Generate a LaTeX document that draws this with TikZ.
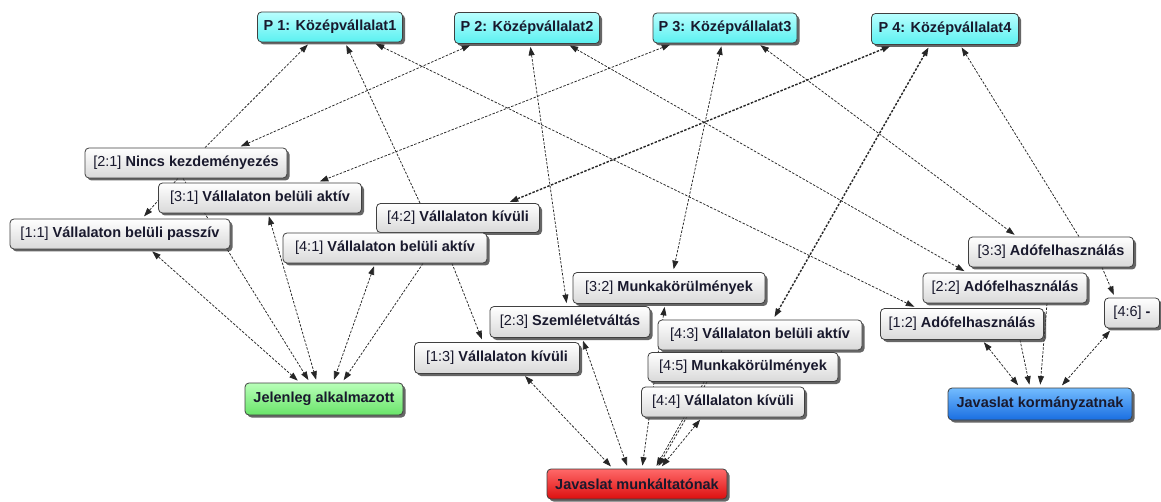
\documentclass[tikz,border=0pt]{standalone}
\usepackage{fontspec}
\setmainfont{Liberation Sans}
\usetikzlibrary{arrows.meta,shadows,backgrounds}
\newcommand\lb[2]{{\mdseries #1} #2}
\tikzset{
  box/.style={draw=black!75, line width=0.8pt, rounded corners=4pt, inner sep=2pt,
    font=\fontsize{14.5}{16}\selectfont\bfseries, text={rgb,255:red,25;green,25;blue,45},
    drop shadow={shadow xshift=2.5pt, shadow yshift=-2.5pt, fill=black!75, opacity=0.8}},
  grey/.style={box, top color=white, bottom color=black!15},
  cyanbox/.style={box, top color={rgb,255:red,185;green,255;blue,255}, bottom color={rgb,255:red,90;green,240;blue,240}},
  greenbox/.style={box, top color={rgb,255:red,185;green,255;blue,185}, bottom color={rgb,255:red,105;green,228;blue,105}},
  redbox/.style={box, top color={rgb,255:red,255;green,105;blue,105}, bottom color={rgb,255:red,220;green,15;blue,15}},
  bluebox/.style={box, top color={rgb,255:red,115;green,188;blue,255}, bottom color={rgb,255:red,25;green,110;blue,225}},
  con/.style={draw=black!85, line width=0.75pt, dash pattern=on 2.5pt off 1.5pt},
  thickcon/.style={con, line width=1.4pt},
  one/.style={con, -{Triangle[length=8.5pt,width=6pt]}, shorten >=3pt},
  two/.style={con, {Triangle[length=8.5pt,width=6pt]}-{Triangle[length=8.5pt,width=6pt]}, shorten >=3pt, shorten <=3pt},
}
\begin{document}
\begin{tikzpicture}[x=1pt,y=-1pt]
\useasboundingbox (0,0) rectangle (1161,502);
% top row
\node[cyanbox, minimum width=145pt, minimum height=30pt] (P1) at (330,27) {P 1: Középvállalat1};
\node[cyanbox, minimum width=145pt, minimum height=31pt] (P2) at (527,28) {P 2: Középvállalat2};
\node[cyanbox, minimum width=144pt, minimum height=30pt] (P3) at (725,28) {P 3: Középvállalat3};
\node[cyanbox, minimum width=147pt, minimum height=31pt] (P4) at (945,29) {P 4: Középvállalat4};
% left cluster
\node[grey, minimum width=202pt, minimum height=30pt] (n21) at (186,163) {\lb{[2:1]}{Nincs kezdeményezés}};
\node[grey, minimum width=203pt, minimum height=30pt] (n31) at (260,198) {\lb{[3:1]}{Vállalaton belüli aktív}};
\node[grey, minimum width=220pt, minimum height=30pt] (n11) at (120,234) {\lb{[1:1]}{Vállalaton belüli passzív}};
\node[grey, minimum width=163pt, minimum height=29pt] (n42) at (458,218) {\lb{[4:2]}{Vállalaton kívüli}};
\node[grey, minimum width=204pt, minimum height=30pt] (n41) at (385,248) {\lb{[4:1]}{Vállalaton belüli aktív}};
\node[greenbox, minimum width=158pt, minimum height=32pt] (jel) at (324,399) {Jelenleg alkalmazott};
% middle cluster
\node[grey, minimum width=192pt, minimum height=31pt] (n32) at (669,288) {\lb{[3:2]}{Munkakörülmények}};
\node[grey, minimum width=160pt, minimum height=31pt] (n23) at (570,322) {\lb{[2:3]}{Szemléletváltás}};
\node[grey, minimum width=165pt, minimum height=31pt] (n13) at (497,358) {\lb{[1:3]}{Vállalaton kívüli}};
\node[grey, minimum width=204pt, minimum height=30pt] (n43) at (760,335) {\lb{[4:3]}{Vállalaton belüli aktív}};
\node[grey, minimum width=190pt, minimum height=29pt] (n45) at (743,367) {\lb{[4:5]}{Munkakörülmények}};
\node[grey, minimum width=163pt, minimum height=30pt] (n44) at (723,402) {\lb{[4:4]}{Vállalaton kívüli}};
\node[redbox, minimum width=180pt, minimum height=30pt] (jm) at (637,484) {Javaslat munkáltatónak};
% right cluster
\node[grey, minimum width=165pt, minimum height=30pt] (n33) at (1051,252) {\lb{[3:3]}{Adófelhasználás}};
\node[grey, minimum width=164pt, minimum height=30pt] (n22) at (1005,288) {\lb{[2:2]}{Adófelhasználás}};
\node[grey, minimum width=163pt, minimum height=31pt] (n12) at (962,324) {\lb{[1:2]}{Adófelhasználás}};
\node[grey, minimum width=55pt, minimum height=30pt] (n46) at (1132,313) {\lb{[4:6]}{-}};
\node[bluebox, minimum width=184pt, minimum height=32pt] (jk) at (1040,404) {Javaslat kormányzatnak};

\begin{scope}[on background layer]
\fill[white] (0,0) rectangle (1161,502);
% to the top row
\draw[one] ([xshift=19pt]n21.north) -- ([xshift=-20pt]P1.south);
\draw[two] ([xshift=-54pt]P2.south) -- ([xshift=52pt]n21.north);
\draw[two] ([xshift=-52pt]P3.south) -- ([xshift=57pt]n31.north);
\draw[two, thickcon] ([xshift=-52pt]P4.south) -- ([xshift=49pt]n42.north);
\draw[one] ([xshift=-38pt]n42.north) -- ([xshift=15pt]P1.south);
\draw[two] ([xshift=43pt]P1.south) -- ([xshift=-45pt]n12.north);
\draw[two] ([xshift=40pt]P2.south) -- ([xshift=-38pt]n22.north);
\draw[two] ([xshift=3pt]P2.south) -- ([xshift=-3pt]n23.north);
\draw[two] ([xshift=-3pt]P3.south) -- ([xshift=4pt]n32.north);
\draw[two] ([xshift=33pt]P3.south) -- ([xshift=-34pt]n33.north);
\draw[two, thickcon] ([xshift=-15pt]P4.south) -- ([xshift=13pt]n43.north);
\draw[one] ([xshift=28pt]n33.north) -- ([xshift=15pt]P4.south);
% left cluster
\draw[one] ([xshift=-8pt]n21.south) -- ([xshift=22pt]n11.north);
\draw[two] ([xshift=30pt]n11.south) -- ([xshift=-24pt]jel.north);
\draw[one] ([xshift=-3pt]n21.south) -- ([xshift=-14pt]jel.north);
\draw[two] ([xshift=8pt]n31.south) -- ([xshift=-7pt]jel.north);
\draw[two] ([xshift=-10pt]n41.south) -- ([xshift=9pt]jel.north);
\draw[one] ([xshift=38pt]n41.south) -- ([xshift=18pt]jel.north);
\draw[one] ([xshift=67pt]n41.south) -- ([xshift=-14pt]n13.north);
% middle cluster
\draw[two] ([xshift=26pt]n13.south) -- ([xshift=-24pt]jm.north);
\draw[two] ([xshift=12pt]n23.south) -- ([xshift=-9pt]jm.north);
\draw[two] ([xshift=-4pt]n32.south) -- ([xshift=5pt]jm.north);
\draw[one] ([xshift=-38pt]n43.south) -- ([xshift=18pt]jm.north);
\draw[one] ([xshift=-36pt]n45.south) -- ([xshift=20pt]jm.north);
\draw[two] ([xshift=-21pt]n44.south) -- ([xshift=23pt]jm.north);
% right cluster
\draw[one] ([xshift=51pt]n33.south) -- ([xshift=-17pt]n46.north);
\draw[two] ([xshift=20pt]n12.south) -- ([xshift=-20pt]jk.north);
\draw[one] ([xshift=58pt]n12.south) -- ([xshift=-10pt]jk.north);
\draw[one] ([xshift=42pt]n22.south) -- (jk.north);
\draw[two] ([xshift=-20pt]n46.south) -- ([xshift=20pt]jk.north);
\end{scope}
\end{tikzpicture}
\end{document}
